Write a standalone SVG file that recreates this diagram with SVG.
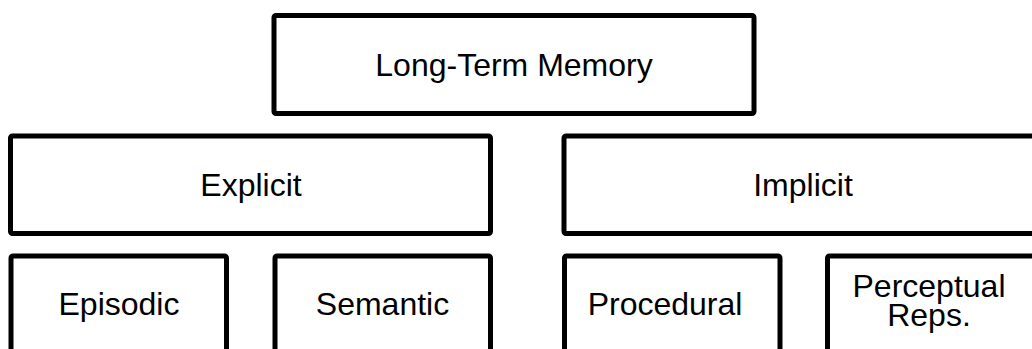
<svg xmlns="http://www.w3.org/2000/svg" width="1032" height="349" viewBox="0 0 1032 349">
  <style>
    .box { fill: #ffffff; stroke: #000000; stroke-width: 5; stroke-linejoin: round; }
    .label { font-family: "Liberation Sans", Arial, sans-serif; font-size: 32px; fill: #000000; text-anchor: middle; }
  </style>
  <rect x="0" y="0" width="1032" height="349" fill="#ffffff"/>

  <!-- memory hierarchy: boxes only, no drawn links -->
  <g id="connectors"></g>

  <g id="long-term-memory">
    <rect class="box" x="274" y="15.5" width="480" height="98" rx="2"/>
    <text class="label" x="514" y="76">Long-Term Memory</text>
  </g>

  <g id="explicit">
    <rect class="box" x="10.5" y="136" width="480" height="97.5" rx="2"/>
    <text class="label" x="251" y="196">Explicit</text>
  </g>

  <g id="implicit">
    <rect class="box" x="564" y="136" width="480" height="97.5" rx="2"/>
    <text class="label" x="803" y="196">Implicit</text>
  </g>

  <g id="episodic">
    <rect class="box" x="11" y="256" width="215.5" height="98" rx="2"/>
    <text class="label" x="119" y="315">Episodic</text>
  </g>

  <g id="semantic">
    <rect class="box" x="275" y="256" width="215.5" height="98" rx="2"/>
    <text class="label" x="382.5" y="315">Semantic</text>
  </g>

  <g id="procedural">
    <rect class="box" x="564.5" y="256" width="215.5" height="98" rx="2"/>
    <text class="label" x="665" y="315">Procedural</text>
  </g>

  <g id="perceptual-reps">
    <rect class="box" x="827.5" y="256" width="215.5" height="98" rx="2"/>
    <text class="label" x="929" y="296.5">Perceptual</text>
    <text class="label" x="929" y="325.5">Reps.</text>
  </g>
</svg>
